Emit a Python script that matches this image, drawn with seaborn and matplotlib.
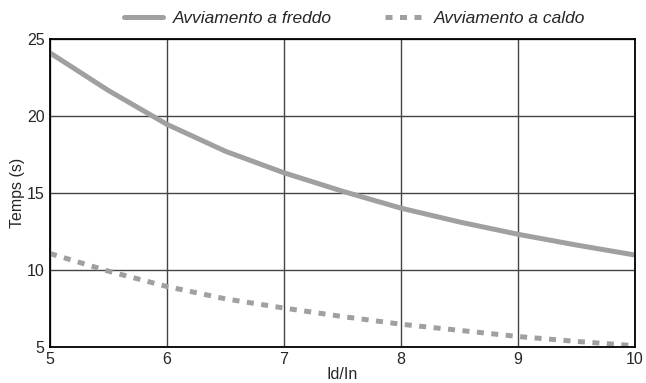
import numpy as np
import pandas as pd
import matplotlib
matplotlib.use("Agg")
import matplotlib.pyplot as plt
import seaborn as sns

# values
id_in = [5, 5.5, 6, 6.5, 7, 7.5, 8, 8.5, 9, 9.5, 10]
freddo = [24.1, 21.65, 19.45, 17.7, 16.3, 15.1, 14.0, 13.1, 12.3, 11.6, 10.95]
caldo = [11.05, 9.9, 8.9, 8.1, 7.5, 6.95, 6.45, 6.05, 5.65, 5.33, 5.05]
serie = ['Avviamento a freddo', 'Avviamento a caldo']

df = pd.DataFrame({'Id/In': id_in * 2,
                   'Temps (s)': freddo + caldo,
                   'serie': [serie[0]] * len(id_in) + [serie[1]] * len(id_in)})

sns.set_style("white")
plt.rcParams['font.family'] = ['Liberation Sans', 'DejaVu Sans']

fig, ax = plt.subplots(figsize=(6.46, 3.83), dpi=100)
sns.lineplot(data=df, x='Id/In', y='Temps (s)', hue='serie', style='serie',
             palette=['#a0a0a0', '#a0a0a0'], dashes=[(None, None), (1.4, 1.5)],
             linewidth=3.6, ax=ax)

ax.set_xlim(5, 10)
ax.set_ylim(5, 25)
ax.set_xticks([5, 6, 7, 8, 9, 10])
ax.set_yticks([5, 10, 15, 20, 25])
ax.grid(True, color='#444444', linewidth=1)
ax.set_axisbelow(True)
for s in ax.spines.values():
    s.set_color('black')
    s.set_linewidth(1.3)
ax.tick_params(labelsize=11.5, length=0, pad=4)
ax.set_xlabel('Id/In', fontsize=11.5, labelpad=0)
ax.set_ylabel('Temps (s)', fontsize=11.5, labelpad=1)

leg = ax.legend(loc='center', bbox_to_anchor=(0.549, 0.952), bbox_transform=fig.transFigure,
                ncol=2, frameon=False, fontsize=12.5, handlelength=2.25,
                handletextpad=0.55, columnspacing=3.1)
for t in leg.get_texts():
    t.set_fontstyle('italic')

fig.subplots_adjust(left=0.0774, right=0.983, top=0.898, bottom=0.0953)
fig.savefig('out.png', dpi=100)
